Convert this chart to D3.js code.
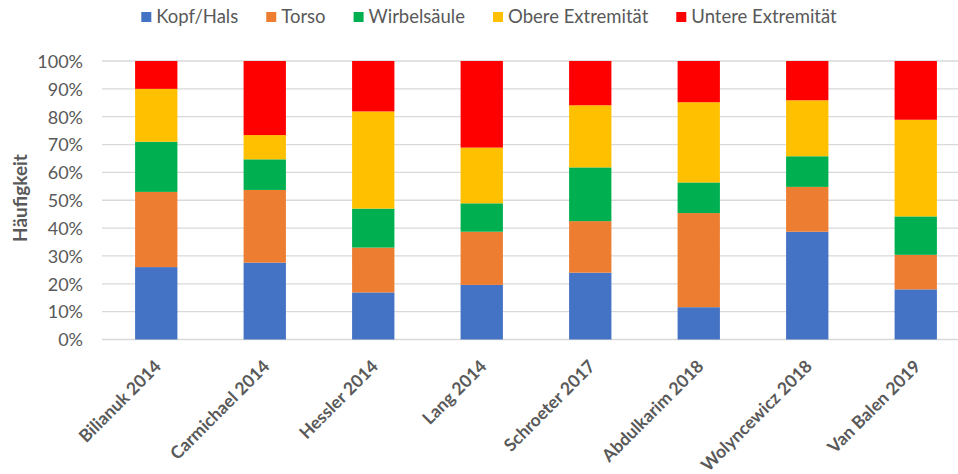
<!DOCTYPE html>
<html><head><meta charset="utf-8">
<script src="https://cdn.jsdelivr.net/npm/d3@7/dist/d3.min.js"></script>
<style>html,body{margin:0;padding:0;background:#fff;overflow:hidden}</style>
</head><body>
<svg id="chart" width="958" height="474"></svg>
<script>
const categories = ["Bilianuk 2014","Carmichael 2014","Hessler 2014","Lang 2014","Schroeter 2017","Abdulkarim 2018","Wolyncewicz 2018","Van Balen 2019"];
const seriesNames = ["Kopf/Hals","Torso","Wirbelsäule","Obere Extremität","Untere Extremität"];
const seriesColors = ["#4472C4","#ED7D31","#00B050","#FFC000","#FF0000"];
const kopfHals  = [26.0, 27.6, 16.9, 19.6, 24.0, 11.6, 38.7, 18.0];
const torso     = [27.0, 26.1, 16.1, 19.1, 18.5, 33.8, 16.1, 12.4];
const wirbel    = [18.0, 11.0, 14.0, 10.2, 19.3, 11.0, 11.0, 13.8];
const obere     = [19.0,  8.7, 34.9, 20.0, 22.3, 28.8, 20.1, 34.7];
const untere    = [10.0, 26.6, 18.1, 31.1, 15.9, 14.8, 14.1, 21.1];
const yTicks = [0,10,20,30,40,50,60,70,80,90,100];
const yTitle = "Häufigkeit";

const allSeries = [kopfHals, torso, wirbel, obere, untere];
const table = categories.map((c,i)=>{
  const o = {cat:c};
  seriesNames.forEach((s,j)=>o[s]=allSeries[j][i]);
  return o;
});
const stack = d3.stack().keys(seriesNames).offset(d3.stackOffsetExpand)(table);

const svg = d3.select("#chart");
const font = "Lato, 'Open Sans', sans-serif";
const textCol = "#595959";

const x = d3.scaleBand().domain(categories).range([102, 970]).paddingInner(0.61).paddingOuter(0.305);
const y = d3.scaleLinear().domain([0,1]).range([339.5, 61]);

// gridlines
svg.append("g").selectAll("line").data(yTicks).join("line")
  .attr("x1",102).attr("x2",958)
  .attr("y1",d=>y(d/100)).attr("y2",d=>y(d/100))
  .attr("stroke","#D9D9D9").attr("stroke-width",1.3);

// y axis labels
const yAxis = d3.axisLeft(y).tickValues(yTicks.map(d=>d/100)).tickFormat(d3.format(".0%")).tickSize(0).tickPadding(0);
const gy = svg.append("g").attr("transform","translate(83,0)").call(yAxis);
gy.select(".domain").remove();
gy.selectAll("text").attr("font-family",font).attr("font-size",18).attr("fill",textCol).attr("dy","0.35em");

// bars
svg.append("g").selectAll("g").data(stack).join("g")
  .attr("fill",(d,i)=>seriesColors[i])
  .selectAll("rect").data(d=>d).join("rect")
  .attr("x",d=>x(d.data.cat)).attr("width",x.bandwidth())
  .attr("y",d=>y(d[1])).attr("height",d=>y(d[0])-y(d[1]));

// x axis labels
const xAxis = d3.axisBottom(x).tickSize(0).tickPadding(0);
const gx = svg.append("g").attr("transform","translate(0,339.5)").call(xAxis);
gx.select(".domain").remove();
gx.selectAll("text")
  .attr("font-family",font).attr("font-size",17.5).attr("font-weight","bold").attr("fill",textCol)
  .attr("text-anchor","end").attr("dy",0).attr("y",0)
  .attr("transform","translate(6,28) rotate(-45)");

// y title
svg.append("text").attr("transform","translate(27,198) rotate(-90)")
  .attr("text-anchor","middle").attr("font-family",font).attr("font-size",19).attr("font-weight","bold")
  .attr("fill",textCol).text(yTitle);

// legend
const lg = svg.append("g");
const items = lg.selectAll("g").data(seriesNames).join("g");
items.append("rect").attr("width",10).attr("height",10).attr("y",12).attr("fill",(d,i)=>seriesColors[i]);
items.append("text").attr("x",15).attr("y",17).attr("dy","0.35em")
  .attr("font-family",font).attr("font-size",18.5).attr("fill",textCol).text(d=>d);
let cx = 0;
items.each(function(){
  const w = d3.select(this).select("text").node().getComputedTextLength();
  d3.select(this).attr("transform",`translate(${cx},0)`);
  cx += 15 + w + 28;
});
const total = cx - 28;
lg.attr("transform",`translate(${489 - total/2},0)`);
</script>
</body></html>
